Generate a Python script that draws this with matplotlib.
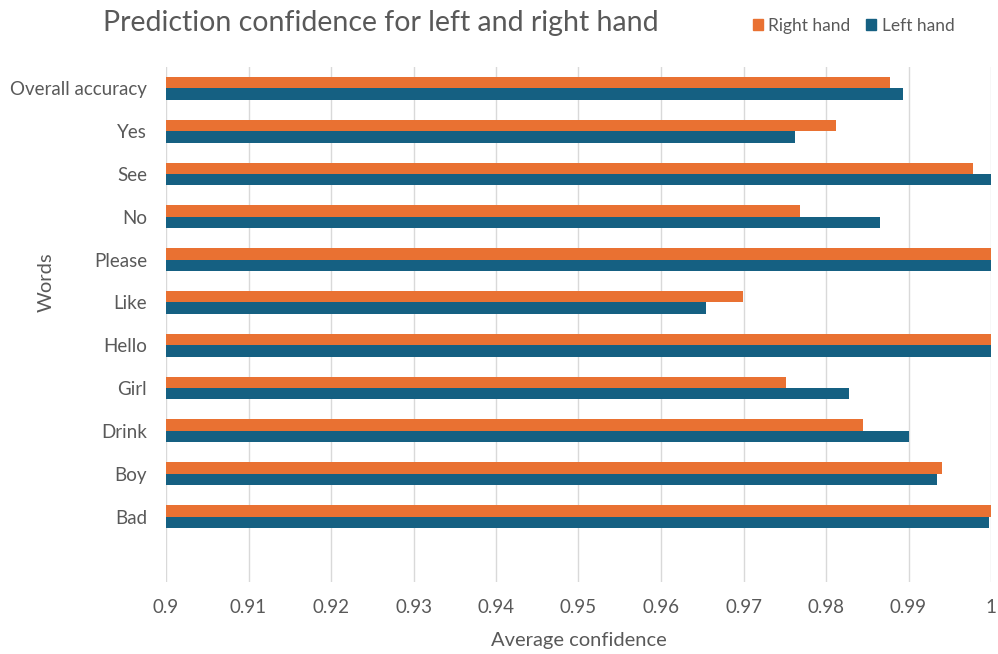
import matplotlib.pyplot as plt
import numpy as np
from matplotlib.patches import Patch

words = ['Overall accuracy', 'Yes', 'See', 'No', 'Please', 'Like',
         'Hello', 'Girl', 'Drink', 'Boy', 'Bad']
right_hand = [0.9878, 0.9812, 0.9978, 0.9768, 1.0, 0.9699,
              1.0, 0.9751, 0.9845, 0.9941, 1.0]
left_hand = [0.9893, 0.9762, 1.0, 0.9866, 1.0, 0.9655,
             1.0, 0.9828, 0.9901, 0.9934, 0.9997]
xticks = [0.9, 0.91, 0.92, 0.93, 0.94, 0.95, 0.96, 0.97, 0.98, 0.99, 1.0]
xticklabels = ['0.9', '0.91', '0.92', '0.93', '0.94', '0.95', '0.96',
               '0.97', '0.98', '0.99', '1']

orange = '#E97132'
blue = '#156082'
grey = '#595959'

plt.rcParams['font.family'] = ['Lato', 'DejaVu Sans']

fig = plt.figure(figsize=(9.98, 6.54), dpi=100)
ax = fig.add_axes([166/998, 72/654, 825/998, 515/654])

y = np.arange(len(words))
h = 0.266
ax.barh(y - h/2, right_hand, height=h, color=orange, zorder=3)
ax.barh(y + h/2, left_hand, height=h, color=blue, zorder=3)

ax.set_xlim(0.9, 1.0)
ax.set_ylim(11.53, -0.5)
ax.set_xticks(xticks)
ax.set_xticklabels(xticklabels)
ax.set_yticks(y)
ax.set_yticklabels(words)
ax.tick_params(length=0, labelsize=13.5, colors=grey)
ax.tick_params(axis='y', pad=13.5)
ax.tick_params(axis='x', pad=12.5)
ax.grid(axis='x', color='#D9D9D9', linewidth=1, zorder=0)
for s in ax.spines.values():
    s.set_visible(False)

ax.set_xlabel('Average confidence', fontsize=14.5, color=grey, labelpad=11)
ax.set_ylabel('Words', fontsize=14.5, color=grey)
ax.yaxis.set_label_coords(-0.1345, 0.583)

fig.text(103/998, 1 - 23/654, 'Prediction confidence for left and right hand',
         fontsize=20.5, color=grey, va='center', ha='left')

handles = [Patch(color=orange, label='Right hand'), Patch(color=blue, label='Left hand')]
fig.legend(handles=handles, loc='center right', bbox_to_anchor=(970/998, 1 - 26/654),
           ncol=2, frameon=False, fontsize=12.5, labelcolor=grey,
           handlelength=0.6, handleheight=0.6, handletextpad=0.3, columnspacing=0.9)

fig.savefig('out.png', dpi=100)
